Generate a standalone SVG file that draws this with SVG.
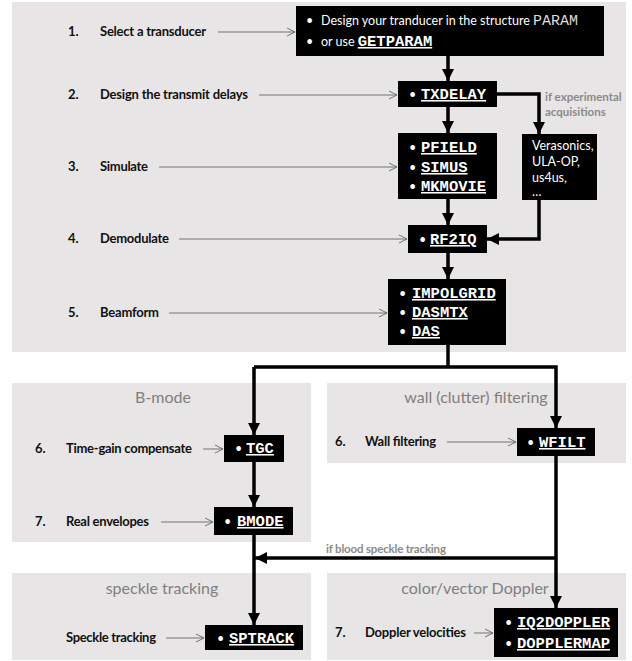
<svg xmlns="http://www.w3.org/2000/svg" width="632" height="661" viewBox="0 0 632 661">
<defs>
<marker id="ah" markerUnits="userSpaceOnUse" markerWidth="14" markerHeight="12" refX="12" refY="6" orient="auto" viewBox="0 0 14 12"><path d="M0,0 L12,6 L0,12 Z" fill="#000"/></marker>
<marker id="th" markerUnits="userSpaceOnUse" markerWidth="10" markerHeight="10" refX="9" refY="5" orient="auto" viewBox="0 0 10 10"><path d="M1,1 L9,5 L1,9" fill="none" stroke="#666" stroke-width="0.9"/></marker>
<style>
.panel{fill:#e7e5e5}
.box{fill:#000}
.lbl{font-family:Lato,"Liberation Sans",sans-serif;font-weight:bold;font-size:13px;fill:#111}
.ttl{font-family:Lato,"Liberation Sans",sans-serif;font-size:16px;fill:#7f7f7f}
.note{font-family:Lato,"Liberation Sans",sans-serif;font-weight:bold;font-size:11.5px;fill:#8a8a8a}
.wt{font-family:Lato,"Liberation Sans",sans-serif;font-size:12.5px;fill:#fff}
.code{font-family:"Liberation Mono",monospace;font-weight:bold;font-size:15.5px;fill:#fff;text-decoration:underline}
.pm{font-family:"Liberation Mono",monospace;font-weight:normal;font-size:15px;fill:#ddd;text-decoration:none}
.thin{stroke:#666;stroke-width:0.9;fill:none;marker-end:url(#th)}
.thick{stroke:#000;stroke-width:3.5;fill:none}
.arr{marker-end:url(#ah)}
</style>
</defs>
<g id="panels">
<rect class="panel" x="12" y="2" width="614" height="350"/>
<rect class="panel" x="12" y="383" width="299" height="159"/>
<rect class="panel" x="327" y="383" width="299" height="80"/>
<rect class="panel" x="12" y="573" width="299" height="87"/>
<rect class="panel" x="327" y="573" width="299" height="87"/>
<text class="ttl" x="163" y="403" text-anchor="middle">B-mode</text>
<text class="ttl" x="476" y="403" text-anchor="middle">wall (clutter) filtering</text>
<text class="ttl" x="162" y="594" text-anchor="middle">speckle tracking</text>
<text class="ttl" x="475" y="594" text-anchor="middle">color/vector Doppler</text>
</g>
<g id="labels" transform="translate(2,0)">
<text class="lbl" x="66" y="36">1.</text><text class="lbl" x="98" y="36" textLength="106">Select a transducer</text>
<text class="lbl" x="66" y="99">2.</text><text class="lbl" x="98" y="99" textLength="148">Design the transmit delays</text>
<text class="lbl" x="66" y="171">3.</text><text class="lbl" x="98" y="171" textLength="48">Simulate</text>
<text class="lbl" x="66" y="243">4.</text><text class="lbl" x="98" y="243" textLength="69">Demodulate</text>
<text class="lbl" x="66" y="317">5.</text><text class="lbl" x="98" y="317" textLength="59">Beamform</text>
<text class="lbl" x="33" y="453">6.</text><text class="lbl" x="64" y="453" textLength="126">Time-gain compensate</text>
<text class="lbl" x="333" y="446">6.</text><text class="lbl" x="363" y="446" textLength="71">Wall filtering</text>
<text class="lbl" x="33" y="526">7.</text><text class="lbl" x="64" y="526" textLength="83">Real envelopes</text>
<text class="lbl" x="64" y="642" textLength="90">Speckle tracking</text>
<text class="lbl" x="333" y="637">7.</text><text class="lbl" x="363" y="637" textLength="101">Doppler velocities</text>
<text class="note" x="543" y="101">if experimental</text>
<text class="note" x="543" y="116">acquisitions</text>
<text class="note" x="324" y="553" textLength="120">if blood speckle tracking</text>
</g>
<g id="connectors" transform="translate(3,0)">
<line class="thin" x1="215" y1="32" x2="292" y2="32"/>
<line class="thin" x1="256" y1="95" x2="394" y2="95"/>
<line class="thin" x1="156" y1="167" x2="394" y2="167"/>
<line class="thin" x1="176" y1="239" x2="404" y2="239"/>
<line class="thin" x1="166" y1="313" x2="384" y2="313"/>
<line class="thin" x1="200" y1="449" x2="220" y2="449"/>
<line class="thin" x1="444" y1="442" x2="513" y2="442"/>
<line class="thin" x1="158" y1="522" x2="210" y2="522"/>
<line class="thin" x1="163" y1="638" x2="201" y2="638"/>
<line class="thin" x1="471" y1="633" x2="490" y2="633"/>
<path class="thick arr" d="M445,56 V81"/>
<path class="thick arr" d="M445,107 V133"/>
<path class="thick arr" d="M494,94 H536 V134"/>
<path class="thick arr" d="M445,199 V225"/>
<path class="thick arr" d="M536,200 V239 H484"/>
<path class="thick arr" d="M445,253 V279"/>
<path class="thick" d="M445,345 V367"/>
<path class="thick arr" d="M251,367 H553 V428"/>
<path class="thick arr" d="M251,367 V435"/>
<path class="thick arr" d="M251,462 V507"/>
<path class="thick arr" d="M251,535 V625"/>
<path class="thick arr" d="M553,456 V608"/>
<path class="thick arr" d="M553,558 H252"/>
</g>
<g id="n1" transform="translate(3,0)">
<rect class="box" x="293" y="6" width="308" height="50"/>
<text class="wt" x="303" y="25">•</text>
<text class="wt" x="318" y="25">Design your tranducer in the structure <tspan class="pm">PARAM</tspan></text>
<text class="wt" x="303" y="46">•</text>
<text class="wt" x="318" y="46">or use <tspan class="code">GETPARAM</tspan></text>
</g>
<g id="n2" transform="translate(3,0)">
<rect class="box" x="395" y="81" width="99" height="26"/>
<text class="wt" x="406" y="99">•</text><text class="code" x="418" y="99">TXDELAY</text>
</g>
<g id="n3" transform="translate(3,0)">
<rect class="box" x="395" y="133" width="99" height="66"/>
<text class="wt" x="406" y="152">•</text><text class="code" x="418" y="152">PFIELD</text>
<text class="wt" x="406" y="172">•</text><text class="code" x="418" y="172">SIMUS</text>
<text class="wt" x="406" y="191">•</text><text class="code" x="418" y="191">MKMOVIE</text>
</g>
<g id="n3b" transform="translate(3,0)">
<rect class="box" x="519" y="134" width="75" height="66"/>
<text class="wt" x="529" y="150" font-size="13">Verasonics,</text>
<text class="wt" x="529" y="166" font-size="13">ULA-OP,</text>
<text class="wt" x="529" y="182" font-size="13">us4us,</text>
<text class="wt" x="529" y="196" font-size="13">…</text>
</g>
<g id="n4" transform="translate(3,0)">
<rect class="box" x="405" y="225" width="79" height="28"/>
<text class="wt" x="416" y="244">•</text><text class="code" x="427" y="244">RF2IQ</text>
</g>
<g id="n5" transform="translate(3,0)">
<rect class="box" x="385" y="279" width="118" height="66"/>
<text class="wt" x="396" y="298">•</text><text class="code" x="409" y="298">IMPOLGRID</text>
<text class="wt" x="396" y="317">•</text><text class="code" x="409" y="317">DASMTX</text>
<text class="wt" x="396" y="336">•</text><text class="code" x="409" y="336">DAS</text>
</g>
<g id="n6" transform="translate(3,0)">
<rect class="box" x="221" y="435" width="60" height="27"/>
<text class="wt" x="232" y="453">•</text><text class="code" x="243" y="453">TGC</text>
</g>
<g id="n6b" transform="translate(3,0)">
<rect class="box" x="514" y="428" width="78" height="28"/>
<text class="wt" x="524" y="447">•</text><text class="code" x="536" y="447">WFILT</text>
</g>
<g id="n7" transform="translate(3,0)">
<rect class="box" x="211" y="507" width="79" height="28"/>
<text class="wt" x="221" y="526">•</text><text class="code" x="234" y="526">BMODE</text>
</g>
<g id="n8" transform="translate(3,0)">
<rect class="box" x="202" y="625" width="98" height="25"/>
<text class="wt" x="214" y="643">•</text><text class="code" x="226" y="643">SPTRACK</text>
</g>
<g id="n9" transform="translate(3,0)">
<rect class="box" x="491" y="608" width="124" height="49"/>
<text class="wt" x="502" y="627">•</text><text class="code" x="514" y="627">IQ2DOPPLER</text>
<text class="wt" x="502" y="648">•</text><text class="code" x="514" y="648">DOPPLERMAP</text>
</g>
</svg>
